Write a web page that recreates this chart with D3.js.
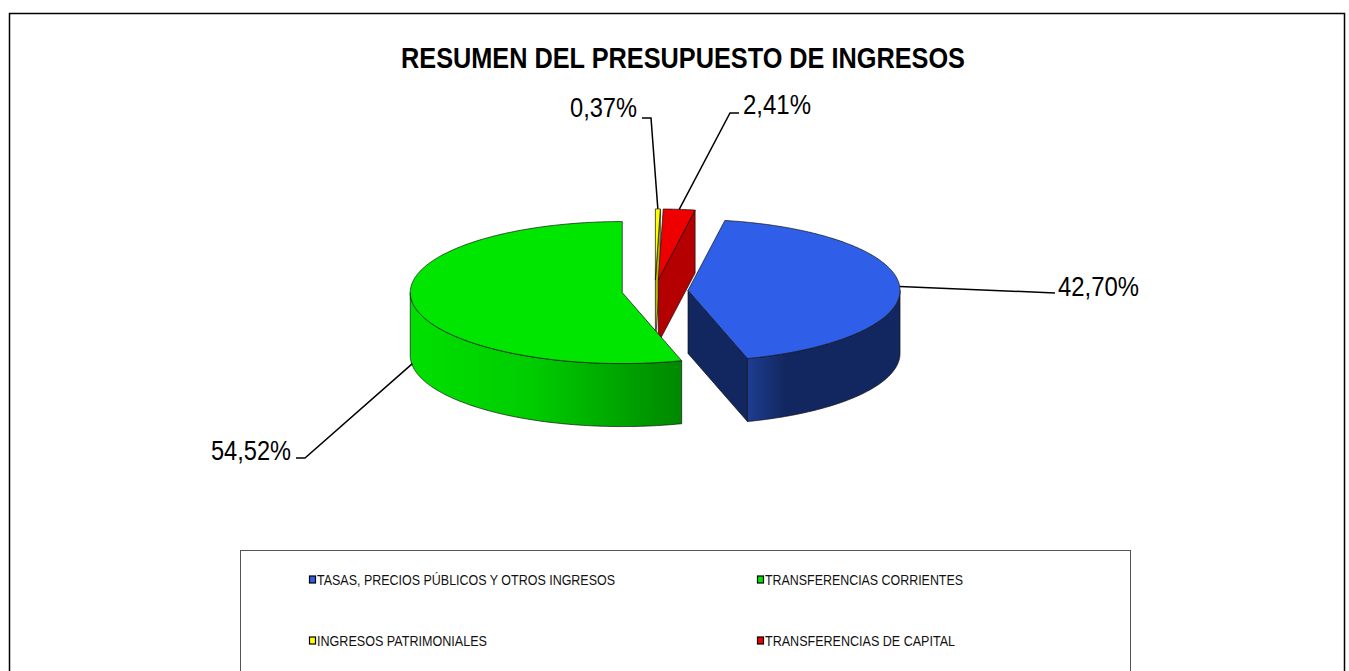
<!DOCTYPE html>
<html>
<head>
<meta charset="utf-8">
<script src="https://cdn.jsdelivr.net/npm/d3@7"></script>
<style>
  body { margin: 0; background: #fff; }
  text { font-family: "Liberation Sans Narrow", "Arial Narrow", "Liberation Sans", Arial, sans-serif; }
</style>
</head>
<body>
<div id="chart"></div>
<script>
// Data
const categories = [
    "TASAS, PRECIOS PÚBLICOS Y OTROS INGRESOS",
    "TRANSFERENCIAS CORRIENTES",
    "INGRESOS PATRIMONIALES",
    "TRANSFERENCIAS DE CAPITAL"
];
const values = [42.70, 54.52, 0.37, 2.41];
const valueLabels = ["42,70%", "54,52%", "0,37%", "2,41%"];
const title = "RESUMEN DEL PRESUPUESTO DE INGRESOS";

// Colours: top face, side face (light, dark)
const topColors = ["#2f5fe9", "#00e600", "#ffff00", "#ee0000"];
const sideLight = ["#1e3d92", "#00e000", "#e0e000", "#c80000"];
const sideDark = ["#12275f", "#008800", "#b8b800", "#b40000"];

const W = 1349, H = 671;
const svg = d3.select("#chart").append("svg")
    .attr("width", W)
    .attr("height", H);

// outer frame
svg.append("rect")
    .attr("x", 9.5).attr("y", 13.5)
    .attr("width", 1335).attr("height", 680)
    .attr("fill", "none").attr("stroke", "#000").attr("stroke-width", 1.5);

// Title
svg.append("text")
    .attr("x", 683).attr("y", 68)
    .attr("text-anchor", "middle")
    .attr("font-size", 29).attr("font-weight", "bold")
    .attr("textLength", 564).attr("lengthAdjust", "spacingAndGlyphs")
    .text(title);

// Pie geometry
const cx = 655, cy = 291, rx = 212, ry = 71, depth = 63, explode = 0.156;
const total = d3.sum(values);
// first slice starts where the last two slices wrap around to 12 o'clock
const offset = 2 * Math.PI * (values[2] + values[3]) / total;
const pie = d3.pie().sort(null).startAngle(offset).endAngle(offset + 2 * Math.PI);
const arcs = pie(values).map((d, i) => {
    const mid = (d.startAngle + d.endAngle) / 2;
    return {
        i,
        a0: d.startAngle, a1: d.endAngle, mid,
        ox: cx + explode * rx * Math.sin(mid),
        oy: cy - explode * ry * Math.cos(mid)
    };
});

const pt = (s, a, dy = 0) => [s.ox + rx * Math.sin(a), s.oy - ry * Math.cos(a) + dy];
const arcPts = (s, b0, b1, dy = 0) => {
    const n = Math.max(2, Math.ceil((b1 - b0) / 0.01));
    return d3.range(n + 1).map(k => pt(s, b0 + (b1 - b0) * k / n, dy));
};
const line = d3.line();

const defs = svg.append("defs");
const g = svg.append("g").attr("stroke", "#111").attr("stroke-width", 0.7).attr("stroke-linejoin", "round");

// radial cut faces
arcs.forEach(s => {
    const faces = [];
    if (Math.sin(s.a0) < -1e-6) faces.push(s.a0);
    if (Math.sin(s.a1) > 1e-6) faces.push(s.a1);
    faces.forEach(a => {
        const p = pt(s, a);
        const poly = [[s.ox, s.oy], p, [p[0], p[1] + depth], [s.ox, s.oy + depth]];
        g.append("path")
            .attr("d", line(poly) + "Z")
            .attr("fill", sideDark[s.i]);
    });
});

// outer walls (front half: 90deg .. 270deg)
arcs.forEach(s => {
    const lo = Math.PI / 2, hi = 3 * Math.PI / 2;
    let b0 = s.a0, b1 = s.a1;
    while (b0 >= 2 * Math.PI) { b0 -= 2 * Math.PI; b1 -= 2 * Math.PI; }
    b0 = Math.max(b0, lo); b1 = Math.min(b1, hi);
    if (b1 <= b0) return;
    const top = arcPts(s, b0, b1);
    const bot = arcPts(s, b0, b1, depth).reverse();
    const x0 = d3.min(top, p => p[0]), x1 = d3.max(top, p => p[0]);
    const gid = "wall" + s.i;
    const grad = defs.append("linearGradient").attr("id", gid)
        .attr("gradientUnits", "userSpaceOnUse")
        .attr("x1", x0).attr("x2", x1).attr("y1", 0).attr("y2", 0);
    if (s.i === 0) {
        // blue: light band near the front corner, dark towards the right
        grad.append("stop").attr("offset", 0).attr("stop-color", sideLight[s.i]);
        grad.append("stop").attr("offset", 0.25).attr("stop-color", sideDark[s.i]);
        grad.append("stop").attr("offset", 1).attr("stop-color", sideDark[s.i]);
    } else {
        grad.append("stop").attr("offset", 0).attr("stop-color", sideLight[s.i]);
        grad.append("stop").attr("offset", 0.45).attr("stop-color", "#00cc00");
        grad.append("stop").attr("offset", 1).attr("stop-color", sideDark[s.i]);
    }
    g.append("path")
        .attr("d", line(top.concat(bot)) + "Z")
        .attr("fill", `url(#${gid})`);
});

// top faces
arcs.forEach(s => {
    const poly = [[s.ox, s.oy]].concat(arcPts(s, s.a0, s.a1));
    g.append("path")
        .attr("d", line(poly) + "Z")
        .attr("fill", topColors[s.i]);
});

// Data labels with leader lines
const labelLayout = [
    { drop: 0, bend: [[1055, 293]], x: 1058, y: 296, anchor: "start", w: 81 },
    { drop: 61, bend: [[305, 458], [296, 458]], x: 291, y: 460, anchor: "end", w: 80 },
    { drop: 0, bend: [[651, 118], [642, 118]], x: 637, y: 117, anchor: "end", w: 67 },
    { drop: 0, bend: [[730, 113], [739, 113]], x: 743, y: 114, anchor: "start", w: 68 }
];
arcs.forEach(s => {
    const L = labelLayout[s.i];
    const start = pt(s, s.mid, L.drop);
    svg.append("path")
        .attr("d", line([start].concat(L.bend)))
        .attr("fill", "none").attr("stroke", "#000").attr("stroke-width", 1.5);
    svg.append("text")
        .attr("x", L.x).attr("y", L.y)
        .attr("text-anchor", L.anchor)
        .attr("font-size", 28)
        .attr("textLength", L.w).attr("lengthAdjust", "spacingAndGlyphs")
        .attr("fill", "#000")
        .text(valueLabels[s.i]);
});

// Legend
svg.append("rect")
    .attr("x", 240.5).attr("y", 550.5)
    .attr("width", 890).attr("height", 140)
    .attr("fill", "#fff").attr("stroke", "#555").attr("stroke-width", 1);

const legendPos = [[313, 580], [761, 580], [313, 641], [761, 641]];
const legendW = [298, 198, 170, 190];
categories.forEach((c, i) => {
    const [lx, ly] = legendPos[i];
    svg.append("rect")
        .attr("x", lx - 3.5).attr("y", ly - 4)
        .attr("width", 6).attr("height", 7)
        .attr("fill", topColors[i]).attr("stroke", "#000").attr("stroke-width", 1.2);
    svg.append("text")
        .attr("x", lx + 4).attr("y", ly + 5)
        .attr("font-size", 14)
        .attr("fill", "#111")
        .attr("textLength", legendW[i]).attr("lengthAdjust", "spacingAndGlyphs")
        .text(c);
});
</script>
</body>
</html>
